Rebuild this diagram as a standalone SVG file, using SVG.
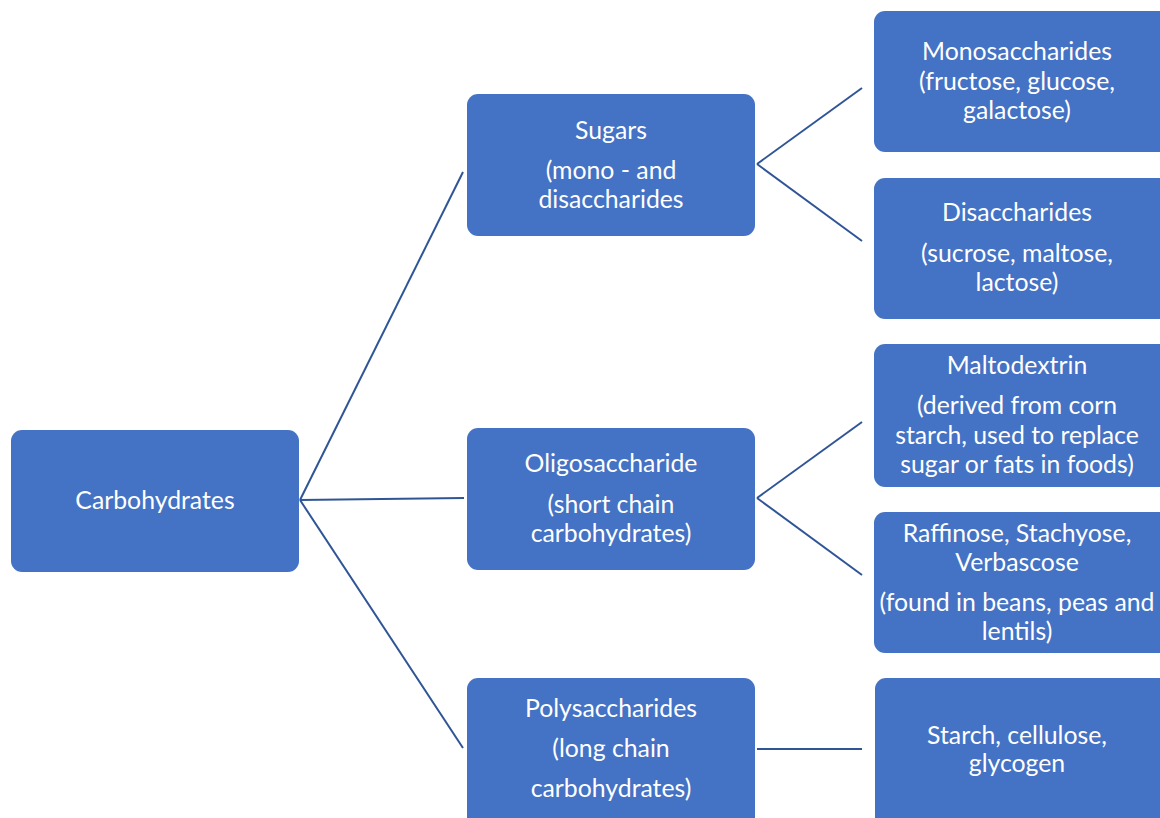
<svg xmlns="http://www.w3.org/2000/svg" width="1160" height="818" viewBox="0 0 1160 818">
<style>
.box{fill:#4472C4;}
.t{font-family:Lato,"Open Sans","Liberation Sans",sans-serif;font-size:24.8px;fill:#ffffff;text-anchor:middle;}
.c{stroke:#2F5597;stroke-width:2;fill:none;}
</style>
<rect width="1160" height="818" fill="#ffffff"/>
<g id="connectors">
<line class="c" x1="300" y1="500" x2="463" y2="172"/>
<line class="c" x1="300" y1="500" x2="464" y2="498"/>
<line class="c" x1="300" y1="500" x2="463" y2="748"/>
<line class="c" x1="757" y1="164" x2="862" y2="88"/>
<line class="c" x1="757" y1="164" x2="862" y2="241"/>
<line class="c" x1="757" y1="498" x2="862" y2="422"/>
<line class="c" x1="757" y1="498" x2="862" y2="575"/>
<line class="c" x1="757" y1="749" x2="862" y2="749"/>
</g>
<g id="carbohydrates">
<rect class="box" x="11" y="430" width="288" height="142" rx="11"/>
<text class="t" x="155" y="509">Carbohydrates</text>
</g>
<g id="sugars">
<rect class="box" x="467" y="94" width="288" height="142" rx="11"/>
<text class="t" x="611" y="139">Sugars</text>
<text class="t" x="611" y="179">(mono - and</text>
<text class="t" x="611" y="208">disaccharides</text>
</g>
<g id="oligosaccharide">
<rect class="box" x="467" y="428" width="288" height="142" rx="11"/>
<text class="t" x="611" y="472">Oligosaccharide</text>
<text class="t" x="611" y="513">(short chain</text>
<text class="t" x="611" y="542">carbohydrates)</text>
</g>
<g id="polysaccharides">
<rect class="box" x="467" y="678" width="288" height="150" rx="11"/>
<text class="t" x="611" y="717">Polysaccharides</text>
<text class="t" x="611" y="757">(long chain</text>
<text class="t" x="611" y="797">carbohydrates)</text>
</g>
<g id="monosaccharides">
<rect class="box" x="874" y="11" width="296" height="141" rx="11"/>
<text class="t" x="1017" y="60">Monosaccharides</text>
<text class="t" x="1017" y="90">(fructose, glucose,</text>
<text class="t" x="1017" y="119">galactose)</text>
</g>
<g id="disaccharides">
<rect class="box" x="874" y="178" width="296" height="141" rx="11"/>
<text class="t" x="1017" y="221">Disaccharides</text>
<text class="t" x="1017" y="262">(sucrose, maltose,</text>
<text class="t" x="1017" y="291">lactose)</text>
</g>
<g id="maltodextrin">
<rect class="box" x="874" y="344" width="296" height="143" rx="11"/>
<text class="t" x="1017" y="374">Maltodextrin</text>
<text class="t" x="1017" y="414">(derived from corn</text>
<text class="t" x="1017" y="444">starch, used to replace</text>
<text class="t" x="1017" y="473">sugar or fats in foods)</text>
</g>
<g id="raffinose">
<rect class="box" x="874" y="512" width="296" height="141" rx="11"/>
<text class="t" x="1017" y="542">Raffinose, Stachyose,</text>
<text class="t" x="1017" y="571">Verbascose</text>
<text class="t" x="1017" y="611">(found in beans, peas and</text>
<text class="t" x="1017" y="640">lentils)</text>
</g>
<g id="starch">
<rect class="box" x="875" y="678" width="295" height="150" rx="11"/>
<text class="t" x="1017" y="744">Starch, cellulose,</text>
<text class="t" x="1017" y="772">glycogen</text>
</g>
</svg>
